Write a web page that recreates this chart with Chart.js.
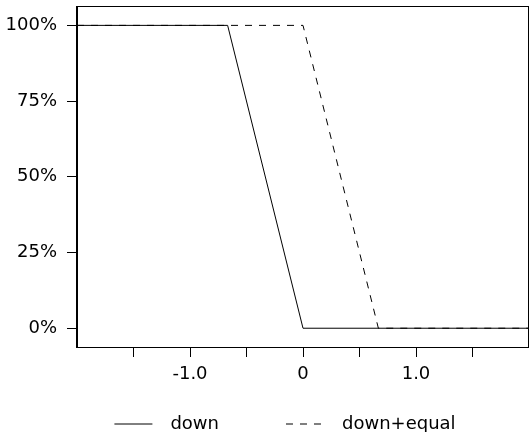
<!DOCTYPE html>
<html>
<head>
<meta charset="utf-8">
<script src="https://cdn.jsdelivr.net/npm/chart.js@4/dist/chart.umd.min.js"></script>
<style>
  html, body { margin: 0; padding: 0; background: #fff; }
  #wrap { width: 529px; height: 432px; }
</style>
</head>
<body>
<div id="wrap"><canvas id="c" width="529" height="432"></canvas></div>
<script>
// ---- data ----
const seriesNames = ['down', 'down+equal'];
const downX = [-2, -0.667, 0, 2];
const downY = [100, 100, 0, 0];
const downEqualX = [-2, 0, 0.667, 2];
const downEqualY = [100, 100, 0, 0];
const xTickValues = [-1.5, -1, -0.5, 0, 0.5, 1, 1.5];
const xTickLabels = { '-1': '-1.0', '0': '0', '1': '1.0' };
const yTickValues = [0, 25, 50, 75, 100];
const yTickLabels = ['0%', '25%', '50%', '75%', '100%'];

const toPoints = (xs, ys) => xs.map((x, i) => ({ x: x, y: ys[i] }));

Chart.defaults.font.family = "'DejaVu Sans', sans-serif";
Chart.defaults.font.size = 18;
Chart.defaults.color = '#000';

const framePlugin = {
  id: 'frame',
  afterLayout(chart) {
    // place the legend row where the reference has it
    const lg = chart.legend;
    if (lg) {
      lg.left += 20; lg.right += 20;
      lg.top = 348; lg.bottom = chart.height;
    }
  },
  afterDraw(chart) {
    const a = chart.chartArea, ctx = chart.ctx;
    ctx.save();
    ctx.strokeStyle = '#000';
    ctx.lineWidth = 1;
    ctx.strokeRect(Math.round(a.left) - 0.5, Math.round(a.top) + 0.5,
                   Math.round(a.right - a.left), Math.round(a.bottom - a.top));
    ctx.restore();
  }
};

new Chart(document.getElementById('c'), {
  type: 'line',
  data: {
    datasets: [
      {
        label: seriesNames[0],
        data: toPoints(downX, downY),
        borderColor: '#000',
        borderWidth: 1,
        pointRadius: 0,
        tension: 0,
        fill: false
      },
      {
        label: seriesNames[1],
        data: toPoints(downEqualX, downEqualY),
        borderColor: '#000',
        borderWidth: 1,
        borderDash: [7, 7],
        pointRadius: 0,
        tension: 0,
        fill: false
      }
    ]
  },
  options: {
    responsive: false,
    animation: false,
    layout: { padding: { left: 0, right: -1, top: 6, bottom: 27 } },
    plugins: {
      tooltip: { enabled: false },
      legend: {
        position: 'bottom',
        maxHeight: 20,
        labels: {
          usePointStyle: true,
          pointStyle: 'line',
          pointStyleWidth: 38,
          padding: 67,
          color: '#000',
          font: { size: 18 },
          generateLabels(chart) {
            const items = Chart.defaults.plugins.legend.labels.generateLabels(chart);
            items.forEach((it, i) => {
              it.text = '\u2002' + it.text;
              it.pointStyle = 'line';
              it.lineDash = chart.data.datasets[i].borderDash || [];
              it.strokeStyle = '#000';
              it.lineWidth = 1;
            });
            return items;
          }
        }
      }
    },
    scales: {
      x: {
        type: 'linear',
        min: -2,
        max: 2,
        afterBuildTicks(scale) { scale.ticks = xTickValues.map(v => ({ value: v })); },
        afterFit(scale) { scale.height = 38; scale.paddingLeft = 0; scale.paddingRight = 0; },
        ticks: {
          autoSkip: false,
          maxRotation: 0,
          padding: 7,
          color: '#000',
          callback: (v) => (xTickLabels[String(v)] !== undefined ? xTickLabels[String(v)] : '')
        },
        grid: { drawOnChartArea: false, drawTicks: true, tickLength: 10, color: '#000', lineWidth: 1 },
        border: { display: true, color: '#000', width: 1 }
      },
      y: {
        type: 'linear',
        min: -6.2,
        max: 106.4,
        afterBuildTicks(scale) { scale.ticks = yTickValues.map(v => ({ value: v })); },
        afterFit(scale) { scale.width = 77; scale.paddingTop = 0; scale.paddingBottom = 0; },
        ticks: {
          autoSkip: false,
          padding: 10,
          color: '#000',
          callback: (v) => { const i = yTickValues.indexOf(v); return i >= 0 ? yTickLabels[i] : ''; }
        },
        grid: { drawOnChartArea: false, drawTicks: true, tickLength: 10, color: '#000', lineWidth: 1 },
        border: { display: true, color: '#000', width: 1 }
      }
    }
  },
  plugins: [framePlugin]
});
</script>
</body>
</html>
